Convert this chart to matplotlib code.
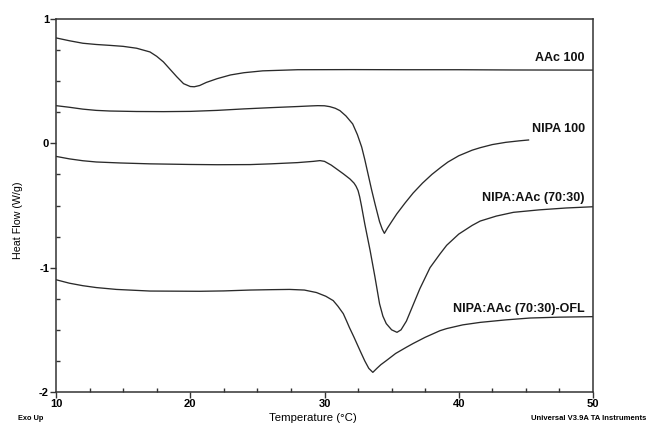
import matplotlib
matplotlib.use("Agg")
import matplotlib.pyplot as plt
from matplotlib.ticker import MultipleLocator

plt.rcParams['font.family'] = ['Liberation Sans', 'DejaVu Sans']

# DSC heat flow traces (temperature in °C, heat flow in W/g)
aac_T = [10, 11, 12, 13, 14, 15, 16, 17, 17.5, 18, 18.5, 19, 19.5, 20, 20.3,
         20.7, 21.2, 22, 23, 24, 25.4, 28, 32, 36, 40, 44, 50]
aac_hf = [0.848, 0.825, 0.805, 0.795, 0.788, 0.780, 0.765, 0.735, 0.70, 0.655,
          0.595, 0.535, 0.48, 0.457, 0.455, 0.465, 0.49, 0.52, 0.550, 0.568,
          0.583, 0.592, 0.593, 0.592, 0.592, 0.590, 0.589]

nipa_T = [10, 11, 12, 13, 14, 16, 18, 20, 22, 24, 26, 28, 29, 29.5, 30, 30.4,
          30.8, 31.15, 31.6, 32.1, 32.45, 32.77, 33.0, 33.24, 33.5, 33.76, 34.1,
          34.3, 34.46, 34.7, 35.0, 35.38, 36.0, 36.6, 37.3, 38.0, 38.7, 39.2,
          40.0, 41.0, 41.6, 42.5, 43.5, 44.5, 45.2]
nipa_hf = [0.303, 0.29, 0.275, 0.265, 0.26, 0.256, 0.255, 0.257, 0.265, 0.277,
           0.287, 0.296, 0.301, 0.303, 0.302, 0.295, 0.282, 0.263, 0.22, 0.156,
           0.07, -0.03, -0.13, -0.245, -0.37, -0.486, -0.63, -0.69, -0.724,
           -0.68, -0.63, -0.568, -0.48, -0.40, -0.32, -0.25, -0.19, -0.15,
           -0.10, -0.055, -0.035, -0.01, 0.008, 0.02, 0.027]

mix_T = [10, 11, 12, 13, 14.8, 17, 20, 22, 24.45, 26, 28, 29.17, 29.66, 30.0,
         30.5, 30.9, 31.4, 31.9, 32.2, 32.35, 32.5, 32.62, 32.75, 33.0, 33.4,
         33.75, 34.1, 34.35, 34.6, 35.0, 35.4, 35.7, 36.1, 36.6, 37.1, 37.86,
         38.6, 39.1, 40.0, 41.0, 41.6, 42.8, 44.07, 46, 48, 50]
mix_hf = [-0.105, -0.125, -0.14, -0.15, -0.158, -0.165, -0.17, -0.172, -0.171,
          -0.165, -0.155, -0.145, -0.139, -0.145, -0.175, -0.206, -0.245,
          -0.287, -0.32, -0.345, -0.38, -0.43, -0.5, -0.648, -0.863, -1.07,
          -1.29, -1.39, -1.45, -1.50, -1.52, -1.50, -1.43, -1.30, -1.17, -1.0,
          -0.89, -0.82, -0.73, -0.66, -0.625, -0.585, -0.555, -0.535, -0.52,
          -0.51]

ofl_T = [10, 11, 12, 13, 14.5, 17, 20.7, 22.5, 24.45, 26, 27.4, 28.5, 29.4,
         30.1, 30.65, 31.0, 31.4, 31.65, 31.85, 32.2, 32.65, 33.0, 33.3, 33.6,
         33.9, 34.2, 34.6, 35.3, 36.1, 36.6, 37.5, 38.6, 39.1, 40.3, 41.6,
         43.5, 45.3, 47.5, 50]
ofl_hf = [-1.097, -1.125, -1.145, -1.16, -1.175, -1.188, -1.19, -1.187, -1.18,
          -1.177, -1.175, -1.18, -1.2, -1.23, -1.265, -1.31, -1.37, -1.43,
          -1.48, -1.56, -1.668, -1.75, -1.81, -1.842, -1.81, -1.78, -1.748,
          -1.69, -1.64, -1.61, -1.56, -1.507, -1.49, -1.46, -1.44, -1.42,
          -1.405, -1.398, -1.394]

series_labels = ["AAc 100", "NIPA 100", "NIPA:AAc (70:30)", "NIPA:AAc (70:30)-OFL"]
label_y = [0.689, 0.118, -0.437, -1.33]

x_ticks = [10, 20, 30, 40, 50]
y_ticks = [-2, -1, 0, 1]

fig = plt.figure(figsize=(6.51, 4.24), dpi=100)
ax = fig.add_axes([56 / 651, 1 - 392 / 424, (593 - 56) / 651, (392 - 19) / 424])

line_color = "#2a2a2a"
for T, hf in [(aac_T, aac_hf), (nipa_T, nipa_hf), (mix_T, mix_hf), (ofl_T, ofl_hf)]:
    ax.plot(T, hf, color=line_color, lw=0.95, solid_joinstyle="round")

for text, y in zip(series_labels, label_y):
    ax.text(49.4, y, text, ha="right", va="center", fontsize=9,
            fontweight="bold", color="#111111")

ax.set_xlim(10, 50)
ax.set_ylim(-2, 1)
ax.set_xticks(x_ticks)
ax.set_yticks(y_ticks)
ax.set_xticklabels([str(v) for v in x_ticks], fontsize=8, fontweight="bold")
ax.set_yticklabels([str(v) for v in y_ticks], fontsize=8, fontweight="bold")
ax.xaxis.set_minor_locator(MultipleLocator(2.5))
ax.yaxis.set_minor_locator(MultipleLocator(0.25))
ax.tick_params(which="major", direction="out", length=4, width=1,
               color="#333333", pad=1)
ax.tick_params(which="minor", direction="in", length=3, width=1,
               color="#333333")
for sp in ax.spines.values():
    sp.set_color("#333333")
    sp.set_linewidth(1.1)

fig.text(18 / 651, 1 - 220 / 424, "Heat Flow (W/g)", rotation=90,
         ha="center", va="center", fontsize=7.7)
fig.text(313 / 651, 1 - 418 / 424, "Temperature (°C)", ha="center",
         va="center", fontsize=8.2)
fig.text(18 / 651, 1 - 419 / 424, "Exo Up", ha="left", va="center",
         fontsize=5.3, fontweight="bold")
fig.text(531 / 651, 1 - 419 / 424, "Universal V3.9A TA Instruments",
         ha="left", va="center", fontsize=5.5, fontweight="bold")

fig.savefig("out.png", dpi=100)
